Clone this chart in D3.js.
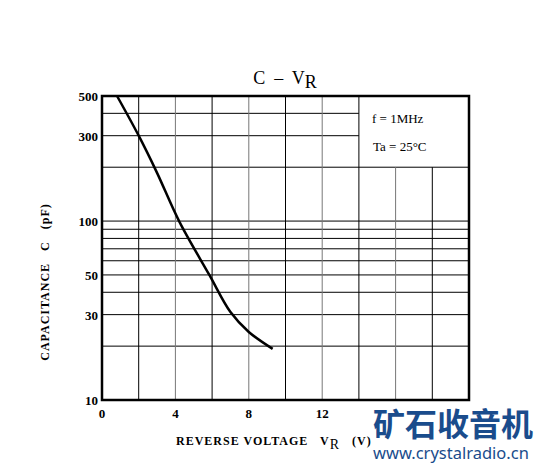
<!DOCTYPE html>
<html><head><meta charset="utf-8">
<script src="https://cdn.jsdelivr.net/npm/d3@7"></script>
<style>body{margin:0;background:#fff}text{font-family:"Liberation Serif","DejaVu Serif",serif;white-space:pre}</style>
</head><body>
<svg id="c" width="539" height="466"></svg>
<script>
// curve
var vr = [0.82, 2, 3, 4.2, 5.85, 7, 8, 9.3];
var cap = [500, 300, 186, 100, 50, 31, 24, 19.3];
var xTicks = [0, 4, 8, 12, 16, 20];
var yTicks = [10, 30, 50, 100, 300, 500];
var yGrid = [20, 30, 40, 50, 60, 70, 80, 90, 100, 200];
var yGridShort = [300, 400];

var svg = d3.select('#c');
var x = d3.scaleLinear().domain([0, 20]).range([102, 469]);
var y = d3.scaleLog().domain([10, 500]).range([400, 96]);

var g = svg.append('g');
// horizontal grid
g.selectAll('.h').data(yGrid).enter().append('line')
    .attr('x1', x(0)).attr('x2', x(20))
    .attr('y1', function (d) { return y(d); }).attr('y2', function (d) { return y(d); })
    .attr('stroke', '#000').attr('stroke-width', 1);
g.selectAll('.hs').data(yGridShort).enter().append('line')
    .attr('x1', x(0)).attr('x2', x(14))
    .attr('y1', function (d) { return y(d); }).attr('y2', function (d) { return y(d); })
    .attr('stroke', '#000').attr('stroke-width', 1);
// vertical grid
g.selectAll('.v').data(d3.range(2, 20, 2)).enter().append('line')
    .attr('x1', function (d) { return x(d); }).attr('x2', function (d) { return x(d); })
    .attr('y1', function (d) { return d > 14 ? y(200) : y(500); }).attr('y2', y(10))
    .attr('stroke', function (d) { return d % 4 === 0 ? '#777' : '#000'; }).attr('stroke-width', 1);
// frame
g.append('rect').attr('x', x(0)).attr('y', y(500))
    .attr('width', x(20) - x(0)).attr('height', y(10) - y(500))
    .attr('fill', 'none').attr('stroke', '#000').attr('stroke-width', 2.5);

// curve
var line = d3.line().x(function (d) { return x(d[0]); }).y(function (d) { return y(d[1]); })
    .curve(d3.curveCatmullRom);
g.append('path').datum(d3.zip(vr, cap)).attr('d', line)
    .attr('fill', 'none').attr('stroke', '#000').attr('stroke-width', 2.5);

// tick labels
svg.selectAll('.yt').data(yTicks).enter().append('text')
    .attr('x', 98).attr('y', function (d) { return y(d) + 5; })
    .attr('text-anchor', 'end').attr('font-size', 13).attr('font-weight', 'bold').text(function (d) { return d; });
svg.selectAll('.xt').data(xTicks.filter(function (d) { return d < 16; })).enter().append('text')
    .attr('x', function (d) { return x(d); }).attr('y', 418)
    .attr('text-anchor', 'middle').attr('font-size', 13).attr('font-weight', 'bold').text(function (d) { return d; });

// title
var t = svg.append('text').attr('x', 285).attr('y', 84).attr('text-anchor', 'middle')
    .attr('font-size', 18);
t.append('tspan').text('C  –  V');
t.append('tspan').attr('dy', 4).text('R');

// legend notes
svg.append('text').attr('x', 372).attr('y', 123).attr('font-size', 13).text('f = 1MHz');
svg.append('text').attr('x', 373).attr('y', 151).attr('font-size', 13).text('Ta = 25°C');

// axis titles
svg.append('text').attr('transform', 'translate(49,282) rotate(-90)').attr('text-anchor', 'middle')
    .attr('font-size', 12).attr('font-weight', 'bold').attr('letter-spacing', 1)
    .text('CAPACITANCE   C   (pF)');
var xl = svg.append('text').attr('x', 176).attr('y', 445).attr('font-size', 12).attr('font-weight', 'bold')
    .attr('letter-spacing', 1);
xl.append('tspan').text('REVERSE VOLTAGE   V');
xl.append('tspan').attr('dy', 4).attr('font-size', 14).attr('font-weight', 'normal').text('R');
xl.append('tspan').attr('dy', -4).text('   (V)');

// watermark
svg.append('text').attr('x', 373).attr('y', 436).style('font-family', '"Noto Sans CJK SC"')
    .attr('font-size', 32).attr('font-weight', 'bold').attr('fill', '#1a4c8c').text('矿石收音机');
svg.append('text').attr('x', 373).attr('y', 459).style('font-family', '"Noto Sans"')
    .attr('font-size', 16.5).attr('fill', '#1a4c8c').text('www.crystalradio.cn');
</script>
</body></html>
